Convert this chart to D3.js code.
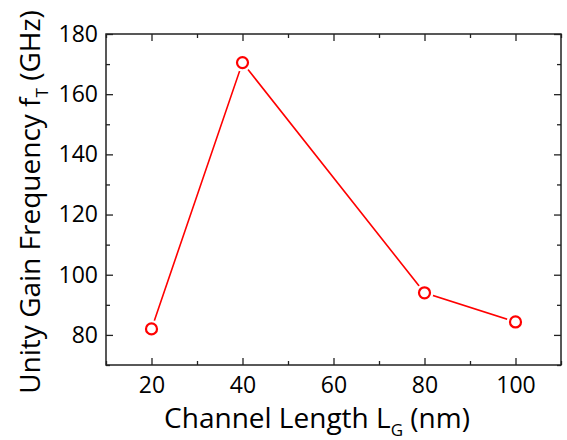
<!DOCTYPE html>
<html>
<head>
<meta charset="utf-8">
<script src="https://cdn.jsdelivr.net/npm/d3@7"></script>
<style>
  body { margin: 0; background: #fff; }
  svg { font-family: "Open Sans", sans-serif; }
</style>
</head>
<body>
<svg id="chart" width="567" height="440"></svg>
<script>
// data
var lengths = [20, 40, 80, 100];
var ftValues = [82, 170.5, 94, 84.3];
var xTicks = [20, 40, 60, 80, 100];
var yTicks = [80, 100, 120, 140, 160, 180];

var svg = d3.select("#chart"),
    margin = {top: 34, right: 6, bottom: 75, left: 106},
    width = +svg.attr("width") - margin.left - margin.right,
    height = +svg.attr("height") - margin.top - margin.bottom,
    g = svg.append("g").attr("transform", "translate(" + margin.left + "," + margin.top + ")");

var x = d3.scaleLinear().domain([10, 110]).range([0, width]);
var y = d3.scaleLinear().domain([70, 180]).range([height, 0]);

var axisColor = "#222";
var minorX = d3.range(10, 111, 10);
var minorY = d3.range(70, 181, 10);

function styleAxis(sel) {
  sel.select(".domain").remove();
  sel.selectAll(".tick line").attr("stroke", axisColor).attr("stroke-width", 1.3);
  sel.selectAll(".tick text").attr("fill", "#000").attr("font-size", 23)
    .attr("font-family", "Open Sans, sans-serif");
}

// bottom axis, ticks inward
g.append("g")
    .attr("transform", "translate(0," + height + ")")
    .call(d3.axisBottom(x).tickValues(minorX).tickSize(-4).tickPadding(12)
      .tickFormat(function(d) { return xTicks.indexOf(d) >= 0 ? d : ""; }))
    .call(styleAxis)
    .selectAll(".tick line")
      .attr("y2", function(d) { return xTicks.indexOf(d) >= 0 ? -7 : -4; });

g.append("g")
    .call(d3.axisTop(x).tickValues(minorX).tickSize(-4).tickFormat(""))
    .call(styleAxis)
    .selectAll(".tick line")
      .attr("y2", function(d) { return xTicks.indexOf(d) >= 0 ? 7 : 4; });

g.append("g")
    .call(d3.axisLeft(y).tickValues(minorY).tickSize(-4).tickPadding(8)
      .tickFormat(function(d) { return yTicks.indexOf(d) >= 0 ? d : ""; }))
    .call(styleAxis)
    .selectAll(".tick line")
      .attr("x2", function(d) { return yTicks.indexOf(d) >= 0 ? 7 : 4; });

g.append("g")
    .attr("transform", "translate(" + width + ",0)")
    .call(d3.axisRight(y).tickValues(minorY).tickSize(-4).tickFormat(""))
    .call(styleAxis)
    .selectAll(".tick line")
      .attr("x2", function(d) { return yTicks.indexOf(d) >= 0 ? -7 : -4; });

// frame
g.append("rect")
    .attr("width", width)
    .attr("height", height)
    .attr("fill", "none")
    .attr("stroke", axisColor)
    .attr("stroke-width", 1.5);

var pts = lengths.map(function(d, i) { return [d, ftValues[i]]; });

g.append("path")
    .datum(pts)
    .attr("fill", "none")
    .attr("stroke", "#f00")
    .attr("stroke-width", 1.6)
    .attr("d", d3.line().x(function(d) { return x(d[0]); }).y(function(d) { return y(d[1]); }));

// white halo to leave a gap between line and marker
g.selectAll(".halo")
    .data(pts)
  .enter().append("circle")
    .attr("cx", function(d) { return x(d[0]); })
    .attr("cy", function(d) { return y(d[1]); })
    .attr("r", 9)
    .attr("fill", "#fff");

g.selectAll(".pt")
    .data(pts)
  .enter().append("circle")
    .attr("cx", function(d) { return x(d[0]); })
    .attr("cy", function(d) { return y(d[1]); })
    .attr("r", 5.5)
    .attr("fill", "#fff")
    .attr("stroke", "#f00")
    .attr("stroke-width", 2.2);

// axis titles
var xt = svg.append("text")
    .attr("x", 317)
    .attr("y", 428)
    .attr("text-anchor", "middle")
    .attr("font-size", 28)
    .attr("fill", "#000");
xt.append("tspan").text("Channel Length L");
xt.append("tspan").attr("font-size", 17).attr("dy", 8).text("G");
xt.append("tspan").attr("dy", -8).text(" (nm)");

var yt = svg.append("text")
    .attr("transform", "translate(40,202) rotate(-90)")
    .attr("text-anchor", "middle")
    .attr("font-size", 28)
    .attr("fill", "#000");
yt.append("tspan").text("Unity Gain Frequency f");
yt.append("tspan").attr("font-size", 17).attr("dy", 8).text("T");
yt.append("tspan").attr("dy", -8).text(" (GHz)");
</script>
</body>
</html>
